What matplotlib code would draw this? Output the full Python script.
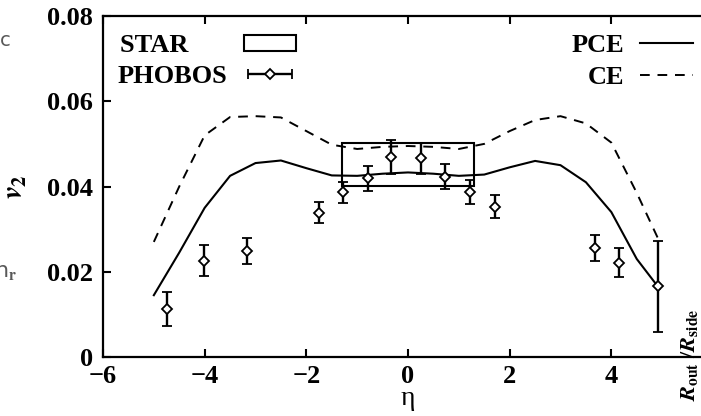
import numpy as np
import matplotlib
matplotlib.use("Agg")
import matplotlib.pyplot as plt
import matplotlib.patches as mpatches
from matplotlib.container import ErrorbarContainer
from matplotlib.legend_handler import HandlerErrorbar

# -------------------------------------------------------------------
# Data
# -------------------------------------------------------------------
# PHOBOS v2(eta) points with symmetric errors
phobos_eta = [-4.75, -4.02, -3.16, -1.76, -1.27, -0.78, -0.33, 0.25,
              0.73, 1.22, 1.71, 3.67, 4.16, 4.92]
phobos_v2 = [0.0113, 0.0226, 0.0249, 0.0339, 0.0386, 0.0419, 0.0470, 0.0466,
             0.0423, 0.0388, 0.0353, 0.0256, 0.0221, 0.0166]
phobos_err = [0.0040, 0.0037, 0.0030, 0.0025, 0.0024, 0.0030, 0.0040, 0.0036,
              0.0030, 0.0028, 0.0026, 0.0031, 0.0034, 0.0107]

# STAR band (eta range, v2 range)
star_eta = [-1.3, 1.3]
star_v2 = [0.0402, 0.0501]

# model curves
curve_eta = [-5.0, -4.5, -4.0, -3.5, -3.0, -2.5, -2.0, -1.5, -1.0, -0.5, 0.0,
             0.5, 1.0, 1.5, 2.0, 2.5, 3.0, 3.5, 4.0, 4.5, 4.95]
pce_v2 = [0.0145, 0.0245, 0.0350, 0.0425, 0.0455, 0.0461, 0.0443, 0.0426,
          0.0425, 0.0430, 0.0433, 0.0430, 0.0425, 0.0428, 0.0445, 0.0460,
          0.0450, 0.0410, 0.0340, 0.0230, 0.0160]
ce_v2 = [0.0270, 0.0400, 0.0520, 0.0563, 0.0565, 0.0562, 0.0530, 0.0498,
         0.0488, 0.0493, 0.0495, 0.0493, 0.0488, 0.0500, 0.0530, 0.0556,
         0.0565, 0.0548, 0.0503, 0.0385, 0.0270]

xticks = [-6, -4, -2, 0, 2, 4, 6]
yticks = [0, 0.02, 0.04, 0.06, 0.08]
ytick_labels = ["0", "0.02", "0.04", "0.06", "0.08"]

# -------------------------------------------------------------------
# Style
# -------------------------------------------------------------------
plt.rcParams["font.family"] = ["Liberation Serif", "DejaVu Serif"]
plt.rcParams["font.weight"] = "bold"
plt.rcParams["mathtext.fontset"] = "stix"
FS = 19

fig = plt.figure(figsize=(7.01, 4.16), dpi=100)
W, H = 701, 416
# axes right edge sits beyond the figure (reference is cropped there)
ax = fig.add_axes([103 / W, (H - 357) / H, 610 / W, 341 / H])

# model curves
ax.plot(curve_eta, pce_v2, color="black", lw=1.5, label="PCE")
ax.plot(curve_eta, ce_v2, color="black", lw=1.4, dashes=(5, 4), label="CE")

# STAR band
star_box = mpatches.Rectangle((star_eta[0], star_v2[0]), star_eta[1] - star_eta[0],
                              star_v2[1] - star_v2[0], facecolor="none",
                              edgecolor="black", lw=1.5)
ax.add_patch(star_box)

# PHOBOS
eb = ax.errorbar(phobos_eta, phobos_v2, yerr=phobos_err, fmt="D", color="black",
                 mfc="white", mec="black", ms=5, mew=1.3,
                 elinewidth=1.7, capsize=3.5, capthick=1.5)

# -------------------------------------------------------------------
# Axes styling
# -------------------------------------------------------------------
ax.set_xlim(-6, 6)
ax.set_ylim(0, 0.08)
ax.set_xticks(xticks)
ax.set_yticks(yticks)
ax.set_yticklabels(ytick_labels)
ax.spines["right"].set_visible(False)
for s in ["left", "bottom", "top"]:
    ax.spines[s].set_linewidth(1.6)
ax.tick_params(axis="x", direction="in", top=True, length=6, width=1.5,
               labelsize=FS, pad=6)
ax.tick_params(axis="y", direction="in", length=6, width=1.5, labelsize=FS, pad=7)

ax.set_ylabel(r"$v_2$", fontsize=21)
ax.yaxis.set_label_coords(-0.122, 0.5)
ax.set_xlabel("η", fontsize=20, fontweight="normal")
ax.xaxis.set_label_coords(0.5, -0.085)

# legends
star_key = mpatches.Patch(facecolor="none", edgecolor="black", lw=1.5)
phobos_key = ErrorbarContainer(eb.lines, has_xerr=True, has_yerr=False)
leg1 = ax.legend([star_key, phobos_key], ["STAR      ", "PHOBOS"],
                 loc="upper left", bbox_to_anchor=(118 / W, 1 - 34 / H),
                 bbox_transform=fig.transFigure, markerfirst=False,
                 frameon=False, fontsize=FS, handlelength=2.0, handleheight=0.55,
                 handletextpad=0.6, labelspacing=0.3, borderpad=0,
                 borderaxespad=0,
                 handler_map={ErrorbarContainer: HandlerErrorbar(xerr_size=0.85)})
ax.add_artist(leg1)
ax.legend(loc="upper right", bbox_to_anchor=(693 / W, 1 - 34 / H),
          bbox_transform=fig.transFigure, markerfirst=False, frameon=False,
          fontsize=FS, handlelength=2.0, handletextpad=0.6, labelspacing=0.3,
          borderpad=0, borderaxespad=0)

# fragments of neighbouring panels visible at the edges of the crop
fig.text(690 / W, (H - 401) / H, r"$R_{\mathrm{out}}$ /$R_{\mathrm{side}}$",
         rotation=90, ha="center", va="bottom", fontsize=16)
fig.text(0.0, 1 - 40 / H, "c", color="0.35", fontsize=14, ha="left",
         va="center", family="DejaVu Sans", weight="normal")
fig.text(-6 / W, 1 - 272 / H, r"n$_\mathrm{r}$", color="0.35", fontsize=16,
         ha="left", va="center", family="DejaVu Sans", weight="normal")

fig.savefig("out.png", dpi=100)
